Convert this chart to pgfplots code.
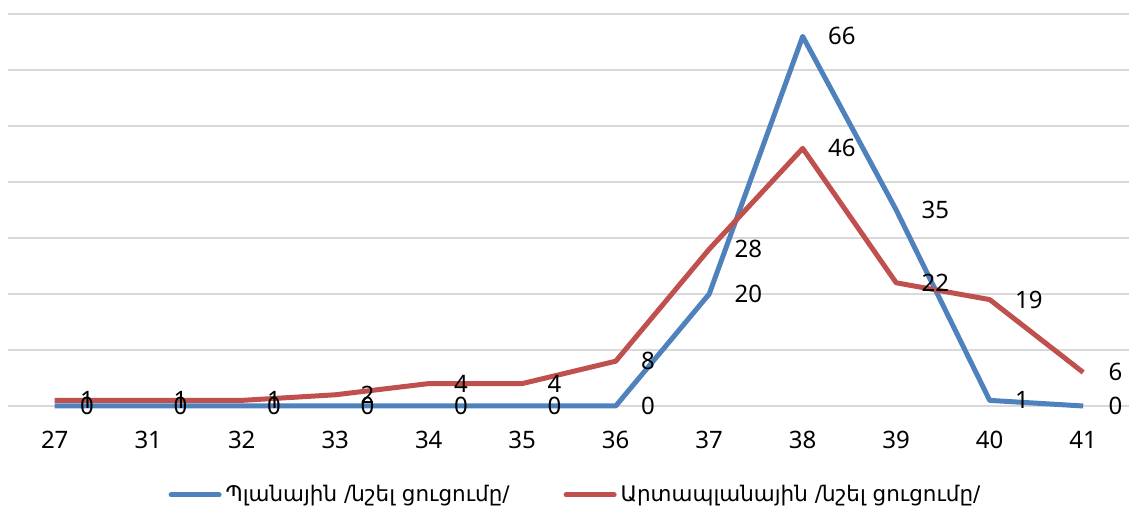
\documentclass[border=0pt]{standalone}
\usepackage{fontspec}
\setmainfont{Noto Sans}
\newfontfamily\armfont{DejaVu Sans}
\usepackage{pgfplots}
\pgfplotsset{compat=1.18}
\definecolor{cblue}{HTML}{4F81BD}
\definecolor{cred}{HTML}{C0504D}
\definecolor{cgrid}{HTML}{D9D9D9}
\begin{document}
\begin{tikzpicture}
\useasboundingbox (-4pt,-53pt) rectangle (560.5pt,203pt);
\begin{axis}[at={(0,0)}, anchor=south west, scale only axis, width=560.5pt, height=196pt,
 xmin=-0.5, xmax=11.49, ymin=0, ymax=70,
 xtick={0,1,2,3,4,5,6,7,8,9,10,11}, xticklabels={27,31,32,33,34,35,36,37,38,39,40,41},
 ytick={0,10,20,30,40,50,60,70}, yticklabels={},
 ymajorgrids, grid style={cgrid, line width=1pt},
 major tick length=0pt, axis line style={draw=none},
 xticklabel style={anchor=center, yshift=-17pt, font=\fontsize{12}{14}\selectfont},
 clip=false,
 /pgf/number format/assume math mode=true,
 legend style={at={(axis description cs:0.5,0)}, anchor=center, xshift=4pt, yshift=-44.5pt, draw=none, fill=none, font=\armfont\fontsize{10.75}{13}\selectfont, legend columns=2, /tikz/every even column/.append style={column sep=25pt}},
 legend image code/.code={\draw[#1, line cap=round] (0pt,0pt) -- (24pt,0pt);},
 every axis plot/.append style={line width=2.5pt, line join=round},
]
\addplot[cblue] coordinates {(0,0)(1,0)(2,0)(3,0)(4,0)(5,0)(6,0)(7,20)(8,66)(9,35)(10,1)(11,0)};
\addplot[cred] coordinates {(0,1)(1,1)(2,1)(3,2)(4,4)(5,4)(6,8)(7,28)(8,46)(9,22)(10,19)(11,6)};
\legend{Պլանային /նշել ցուցումը/, Արտապլանային /նշել ցուցումը/}
\addplot[draw=none, forget plot, nodes near coords, every node near coord/.append style={anchor=west, inner sep=0pt, xshift=11.5pt, font=\fontsize{12}{14}\selectfont, text=black}] coordinates {(0,0)(1,0)(2,0)(3,0)(4,0)(5,0)(6,0)(7,20)(8,66)(9,35)(10,1)(11,0)};
\addplot[draw=none, forget plot, nodes near coords, every node near coord/.append style={anchor=west, inner sep=0pt, xshift=11.5pt, font=\fontsize{12}{14}\selectfont, text=black}] coordinates {(0,1)(1,1)(2,1)(3,2)(4,4)(5,4)(6,8)(7,28)(8,46)(9,22)(10,19)(11,6)};
\end{axis}
\end{tikzpicture}
\end{document}
